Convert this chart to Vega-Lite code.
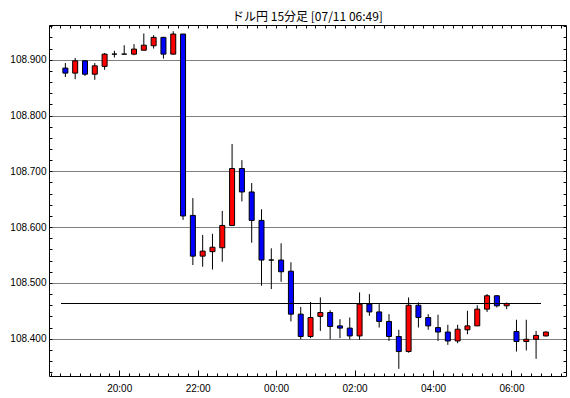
{
  "$schema": "https://vega.github.io/schema/vega-lite/v6.json",
  "width": 517,
  "height": 351,
  "autosize": {"type": "none"},
  "padding": {"left": 49, "top": 25, "right": 4, "bottom": 22},
  "background": "white",
  "title": {"text": "ドル円 15分足 [07/11 06:49]", "font": "Noto Sans CJK JP", "fontSize": 12, "fontWeight": "normal", "color": "black", "anchor": "middle", "frame": "group", "offset": -3},
  "config": {
    "view": {"stroke": "black", "strokeWidth": 1},
    "axis": {"domain": false, "labelFont": "Liberation Sans", "labelFontSize": 10, "labelColor": "black", "tickColor": "black", "labelOverlap": false}
  },
  "data": {"values": [
    {"t": "2019-07-10T18:30:00", "o": 108.885, "h": 108.894, "l": 108.869, "c": 108.876},
    {"t": "2019-07-10T18:45:00", "o": 108.876, "h": 108.903, "l": 108.865, "c": 108.898},
    {"t": "2019-07-10T19:00:00", "o": 108.898, "h": 108.899, "l": 108.871, "c": 108.874},
    {"t": "2019-07-10T19:15:00", "o": 108.874, "h": 108.894, "l": 108.864, "c": 108.889},
    {"t": "2019-07-10T19:30:00", "o": 108.888, "h": 108.912, "l": 108.882, "c": 108.910},
    {"t": "2019-07-10T19:45:00", "o": 108.910, "h": 108.916, "l": 108.904, "c": 108.910},
    {"t": "2019-07-10T20:00:00", "o": 108.910, "h": 108.926, "l": 108.910, "c": 108.910},
    {"t": "2019-07-10T20:15:00", "o": 108.910, "h": 108.928, "l": 108.908, "c": 108.919},
    {"t": "2019-07-10T20:30:00", "o": 108.917, "h": 108.947, "l": 108.917, "c": 108.926},
    {"t": "2019-07-10T20:45:00", "o": 108.925, "h": 108.944, "l": 108.920, "c": 108.940},
    {"t": "2019-07-10T21:00:00", "o": 108.940, "h": 108.941, "l": 108.902, "c": 108.910},
    {"t": "2019-07-10T21:15:00", "o": 108.910, "h": 108.951, "l": 108.909, "c": 108.946},
    {"t": "2019-07-10T21:30:00", "o": 108.946, "h": 108.946, "l": 108.613, "c": 108.620},
    {"t": "2019-07-10T21:45:00", "o": 108.621, "h": 108.652, "l": 108.532, "c": 108.548},
    {"t": "2019-07-10T22:00:00", "o": 108.548, "h": 108.586, "l": 108.529, "c": 108.557},
    {"t": "2019-07-10T22:15:00", "o": 108.556, "h": 108.588, "l": 108.524, "c": 108.564},
    {"t": "2019-07-10T22:30:00", "o": 108.563, "h": 108.629, "l": 108.538, "c": 108.603},
    {"t": "2019-07-10T22:45:00", "o": 108.603, "h": 108.749, "l": 108.603, "c": 108.705},
    {"t": "2019-07-10T23:00:00", "o": 108.705, "h": 108.720, "l": 108.646, "c": 108.663},
    {"t": "2019-07-10T23:15:00", "o": 108.663, "h": 108.679, "l": 108.572, "c": 108.612},
    {"t": "2019-07-10T23:30:00", "o": 108.612, "h": 108.632, "l": 108.495, "c": 108.541},
    {"t": "2019-07-10T23:45:00", "o": 108.541, "h": 108.562, "l": 108.489, "c": 108.541},
    {"t": "2019-07-11T00:00:00", "o": 108.541, "h": 108.571, "l": 108.502, "c": 108.520},
    {"t": "2019-07-11T00:15:00", "o": 108.521, "h": 108.537, "l": 108.431, "c": 108.444},
    {"t": "2019-07-11T00:30:00", "o": 108.444, "h": 108.457, "l": 108.399, "c": 108.404},
    {"t": "2019-07-11T00:45:00", "o": 108.404, "h": 108.466, "l": 108.401, "c": 108.438},
    {"t": "2019-07-11T01:00:00", "o": 108.440, "h": 108.474, "l": 108.414, "c": 108.447},
    {"t": "2019-07-11T01:15:00", "o": 108.447, "h": 108.451, "l": 108.399, "c": 108.422},
    {"t": "2019-07-11T01:30:00", "o": 108.423, "h": 108.435, "l": 108.401, "c": 108.419},
    {"t": "2019-07-11T01:45:00", "o": 108.419, "h": 108.438, "l": 108.399, "c": 108.405},
    {"t": "2019-07-11T02:00:00", "o": 108.405, "h": 108.483, "l": 108.398, "c": 108.462},
    {"t": "2019-07-11T02:15:00", "o": 108.462, "h": 108.480, "l": 108.441, "c": 108.448},
    {"t": "2019-07-11T02:30:00", "o": 108.448, "h": 108.462, "l": 108.420, "c": 108.431},
    {"t": "2019-07-11T02:45:00", "o": 108.431, "h": 108.444, "l": 108.396, "c": 108.404},
    {"t": "2019-07-11T03:00:00", "o": 108.404, "h": 108.416, "l": 108.346, "c": 108.377},
    {"t": "2019-07-11T03:15:00", "o": 108.377, "h": 108.474, "l": 108.375, "c": 108.460},
    {"t": "2019-07-11T03:30:00", "o": 108.460, "h": 108.465, "l": 108.420, "c": 108.438},
    {"t": "2019-07-11T03:45:00", "o": 108.438, "h": 108.444, "l": 108.416, "c": 108.423},
    {"t": "2019-07-11T04:00:00", "o": 108.420, "h": 108.443, "l": 108.396, "c": 108.412},
    {"t": "2019-07-11T04:15:00", "o": 108.412, "h": 108.425, "l": 108.389, "c": 108.396},
    {"t": "2019-07-11T04:30:00", "o": 108.396, "h": 108.425, "l": 108.392, "c": 108.417},
    {"t": "2019-07-11T04:45:00", "o": 108.416, "h": 108.450, "l": 108.408, "c": 108.423},
    {"t": "2019-07-11T05:00:00", "o": 108.423, "h": 108.460, "l": 108.423, "c": 108.453},
    {"t": "2019-07-11T05:15:00", "o": 108.453, "h": 108.480, "l": 108.448, "c": 108.477},
    {"t": "2019-07-11T05:30:00", "o": 108.477, "h": 108.478, "l": 108.456, "c": 108.459},
    {"t": "2019-07-11T05:45:00", "o": 108.459, "h": 108.465, "l": 108.453, "c": 108.463},
    {"t": "2019-07-11T06:00:00", "o": 108.413, "h": 108.434, "l": 108.377, "c": 108.395},
    {"t": "2019-07-11T06:15:00", "o": 108.395, "h": 108.434, "l": 108.379, "c": 108.399},
    {"t": "2019-07-11T06:30:00", "o": 108.399, "h": 108.414, "l": 108.364, "c": 108.406},
    {"t": "2019-07-11T06:45:00", "o": 108.405, "h": 108.413, "l": 108.404, "c": 108.412}
  ]},
  "layer": [
    {
      "mark": {"type": "rule", "color": "black", "strokeWidth": 1, "xOffset": 5},
      "encoding": {
        "x": {
          "field": "t", "type": "temporal", "title": null,
          "scale": {"domain": [
            {"year": 2019, "month": 7, "date": 10, "hours": 18, "minutes": 20, "seconds": 15},
            {"year": 2019, "month": 7, "date": 11, "hours": 7, "minutes": 15, "seconds": 45}
          ], "nice": false},
          "axis": {
            "orient": "bottom",
            "values": [
              {"year": 2019, "month": 7, "date": 10, "hours": 20, "minutes": 0},
              {"year": 2019, "month": 7, "date": 10, "hours": 22, "minutes": 0},
              {"year": 2019, "month": 7, "date": 11, "hours": 0, "minutes": 0},
              {"year": 2019, "month": 7, "date": 11, "hours": 2, "minutes": 0},
              {"year": 2019, "month": 7, "date": 11, "hours": 4, "minutes": 0},
              {"year": 2019, "month": 7, "date": 11, "hours": 6, "minutes": 0}
            ],
            "format": "%H:%M",
            "tickSize": -6,
            "labelPadding": 13,
            "grid": false
          }
        },
        "y": {
          "field": "l", "type": "quantitative", "title": null,
          "scale": {"domain": [108.3332, 108.9622], "zero": false, "nice": false},
          "axis": {
            "orient": "left",
            "values": [108.34, 108.36, 108.38, 108.40, 108.42, 108.44, 108.46, 108.48, 108.50, 108.52, 108.54, 108.56, 108.58, 108.60, 108.62, 108.64, 108.66, 108.68, 108.70, 108.72, 108.74, 108.76, 108.78, 108.80, 108.82, 108.84, 108.86, 108.88, 108.90, 108.92, 108.94, 108.96],
            "tickSize": -3,
            "labelExpr": "abs(datum.value * 10 - round(datum.value * 10)) < 0.01 ? format(datum.value, '.3f') : ''",
            "labelPadding": 6,
            "grid": true,
            "gridColor": "black",
            "gridDash": [1, 1],
            "gridWidth": 1,
            "gridOpacity": {"condition": {"test": "abs(datum.value * 10 - round(datum.value * 10)) < 0.01", "value": 1}, "value": 0}
          }
        },
        "y2": {"field": "h"}
      }
    },
    {
      "mark": {"type": "bar", "width": 5, "stroke": "black", "strokeWidth": 1, "xOffset": 5},
      "encoding": {
        "x": {
          "field": "t", "type": "temporal", "title": null,
          "axis": {"orient": "top", "tickCount": 52, "tickSize": -3, "labels": false, "grid": false}
        },
        "y": {
          "field": "o", "type": "quantitative", "title": null,
          "axis": {
            "orient": "right",
            "values": [108.34, 108.36, 108.38, 108.40, 108.42, 108.44, 108.46, 108.48, 108.50, 108.52, 108.54, 108.56, 108.58, 108.60, 108.62, 108.64, 108.66, 108.68, 108.70, 108.72, 108.74, 108.76, 108.78, 108.80, 108.82, 108.84, 108.86, 108.88, 108.90, 108.92, 108.94, 108.96],
            "tickSize": -3, "labels": false, "grid": false
          }
        },
        "y2": {"field": "c"},
        "color": {"condition": {"test": "datum.c > datum.o", "value": "#ff0000"}, "value": "#0000ff"}
      }
    },
    {
      "mark": {"type": "rule", "color": "black", "strokeWidth": 1},
      "encoding": {
        "x": {"datum": {"year": 2019, "month": 7, "date": 10, "hours": 18, "minutes": 32}, "type": "temporal", "title": null,
          "axis": {"orient": "bottom", "tickCount": 52, "tickSize": -3, "labels": false, "grid": false}},
        "x2": {"datum": {"year": 2019, "month": 7, "date": 11, "hours": 6, "minutes": 44}},
        "y": {"datum": 108.4631, "type": "quantitative", "axis": null}
      }
    }
  ],
  "resolve": {"axis": {"x": "independent", "y": "independent"}}
}
